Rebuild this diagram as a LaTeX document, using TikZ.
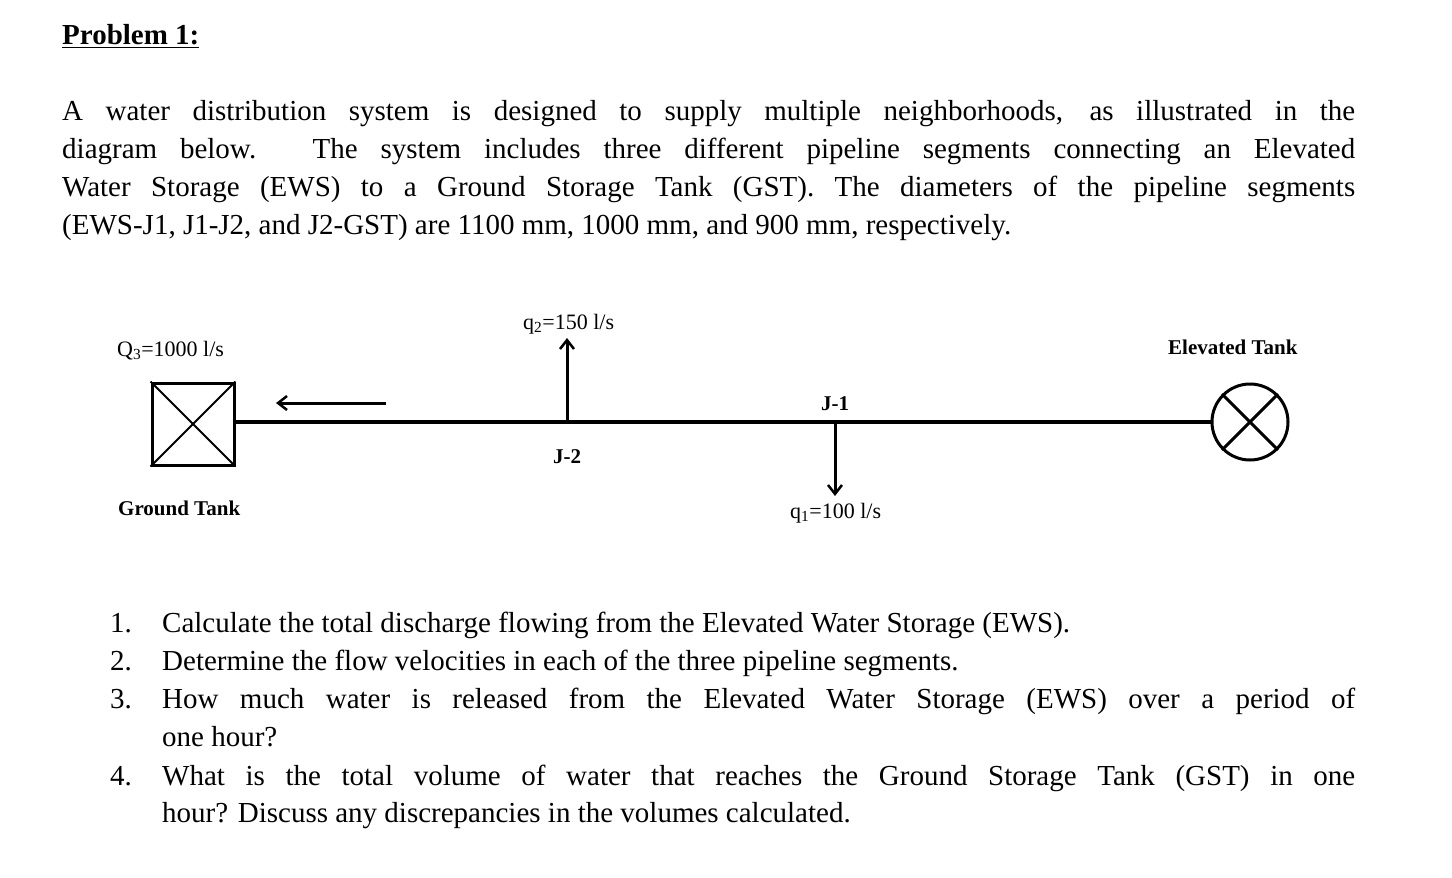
\documentclass[tikz,border=0pt]{standalone}
\usepackage{fontspec}
\setmainfont{Liberation Serif}
\usetikzlibrary{arrows.meta}
\begin{document}
\begin{tikzpicture}[x=1pt,y=-1pt,
  body/.style={anchor=base west,inner sep=0pt,font=\fontsize{29}{36}\selectfont},
  lab/.style={inner sep=0pt,font=\fontsize{22}{26}\selectfont},
  blab/.style={inner sep=0pt,font=\fontsize{21}{26}\selectfont\bfseries},
  pipe/.style={line width=3.2pt},
  arr/.style={line width=3pt,-{Straight Barb[length=9pt,width=14pt,line width=2.5pt]}}]
\useasboundingbox (0,0) rectangle (1452,878);
\node[body,font=\fontsize{29}{36}\selectfont\bfseries] (title) at (62,45) {\underline{Problem 1:}};
\node[body] (l1) at (62,120) {\makebox[1293pt][s]{A water distribution system is designed to supply multiple neighborhoods, as illustrated in the}};
\node[body] (l2) at (62,158) {\makebox[1293pt][s]{diagram below. The system includes three different pipeline segments connecting an Elevated}};
\node[body] (l3) at (62,196) {\makebox[1293pt][s]{Water Storage (EWS) to a Ground Storage Tank (GST). The diameters of the pipeline segments}};
\node[body] (l4) at (62,234) {(EWS-J1, J1-J2, and J2-GST) are 1100 mm, 1000 mm, and 900 mm, respectively.};
% diagram
\node[draw,line width=3pt,minimum width=82pt,minimum height=82pt,inner sep=0pt] (gt) at (193,424) {};
\draw[line width=2pt] (gt.north west) -- (gt.south east) (gt.north east) -- (gt.south west);
\node[draw,circle,line width=3pt,minimum size=76pt,inner sep=0pt] (et) at (1250,422) {};
\draw[line width=3pt] (et.45) -- (et.225) (et.135) -- (et.315);
\coordinate (j2) at (567,422);
\coordinate (j1) at (835,422);
\draw[pipe] (gt.east |- et.west) -- (et.west);
\coordinate (q2e) at (567,338);
\coordinate (q1e) at (835,496);
\draw[arr] (j2) -- (q2e);
\draw[arr] (j1) -- (q1e);
\coordinate (fa) at (386,403);
\coordinate (fb) at (276,403);
\draw[arr] (fa) -- (fb);
\node[lab,anchor=base west] (q3) at (117,356) {Q\textsubscript{3}=1000 l/s};
\node[lab,anchor=base west] (q2) at (523,329) {q\textsubscript{2}=150 l/s};
\node[lab,anchor=base west] (q1) at (790,518) {q\textsubscript{1}=100 l/s};
\node[blab,anchor=base] (j1l) at (835,410) {J-1};
\node[blab,anchor=base] (j2l) at (567,463) {J-2};
\node[blab,anchor=base west] (gtl) at (118,515) {Ground Tank};
\node[blab,anchor=base west] (etl) at (1168,354) {Elevated Tank};
% questions
\node[body] (n1) at (110,632) {1.};
\node[body] (t1) at (162,632) {Calculate the total discharge flowing from the Elevated Water Storage (EWS).};
\node[body] (n2) at (110,670) {2.};
\node[body] (t2) at (162,670) {Determine the flow velocities in each of the three pipeline segments.};
\node[body] (n3) at (110,708) {3.};
\node[body] (t3) at (162,708) {\makebox[1193pt][s]{How much water is released from the Elevated Water Storage (EWS) over a period of}};
\node[body] (t3b) at (162,746) {one hour?};
\node[body] (n4) at (110,785) {4.};
\node[body] (t4) at (162,785) {\makebox[1193pt][s]{What is the total volume of water that reaches the Ground Storage Tank (GST) in one}};
\node[body] (t4b) at (162,822) {hour? Discuss any discrepancies in the volumes calculated.};
\end{tikzpicture}
\end{document}
